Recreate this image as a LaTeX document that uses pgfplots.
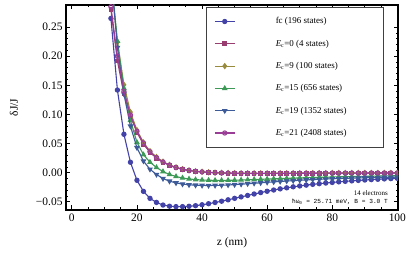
\documentclass[border=0pt]{standalone}
\usepackage{fontspec}
\setmainfont{Liberation Serif}
\newfontfamily\monofont{Liberation Mono}
\usepackage{pgfplots}
\usepackage{pgfplotstable}
\pgfplotsset{compat=1.18}
\definecolor{c1}{rgb}{0.26,0.26,0.66}
\definecolor{c2}{rgb}{0.6,0.24,0.442}
\definecolor{c3}{rgb}{0.6,0.547,0.24}
\definecolor{c4}{rgb}{0.24,0.6,0.337}
\definecolor{c5}{rgb}{0.24,0.353,0.6}
\definecolor{c6}{rgb}{0.6,0.24,0.587}
\pgfplotstableread{
z   fc      e0      e9      e15     e19     e21
12  0.265   0.280   0.330   0.340   0.345   0.285
14  0.142   0.192   0.224   0.226   0.215   0.200
16  0.066   0.135   0.151   0.145   0.135   0.140
18  0.018   0.097   0.104   0.090   0.080   0.099
20  -0.013  0.069   0.073   0.052   0.043   0.071
22  -0.032  0.049   0.052   0.031   0.020   0.051
24  -0.044  0.035   0.037   0.018   0.006   0.036
26  -0.051  0.025   0.027   0.009   -0.003  0.026
28  -0.0555 0.018   0.019   0.002   -0.010  0.0185
30  -0.0575 0.0125  0.0135  -0.003  -0.0145 0.013
32  -0.0582 0.0085  0.0093  -0.0065 -0.0175 0.009
34  -0.0582 0.0056  0.0062  -0.009  -0.0195 0.006
36  -0.0576 0.0036  0.0041  -0.0107 -0.0207 0.0039
38  -0.0566 0.0022  0.0026  -0.0118 -0.0214 0.0024
40  -0.0550 0.0012  0.0016  -0.0125 -0.0218 0.0014
42  -0.0532 0.0005  0.0008  -0.0129 -0.0219 0.0006
44  -0.0511 -0.0001 0.0002  -0.0131 -0.0218 0.0000
46  -0.0489 -0.0005 -0.0002 -0.0131 -0.0215 -0.0004
48  -0.0465 -0.0008 -0.0005 -0.0130 -0.0210 -0.0007
50  -0.0440 -0.0010 -0.0007 -0.0128 -0.0204 -0.0009
52  -0.0415 -0.0011 -0.0009 -0.0125 -0.0197 -0.0011
54  -0.0390 -0.0012 -0.0010 -0.0121 -0.0189 -0.0012
56  -0.0365 -0.0012 -0.0010 -0.0117 -0.0181 -0.0012
58  -0.0341 -0.0012 -0.0010 -0.0113 -0.0173 -0.0012
60  -0.0318 -0.0012 -0.0010 -0.0109 -0.0165 -0.0012
62  -0.0297 -0.0012 -0.0010 -0.0105 -0.0157 -0.0012
64  -0.0277 -0.0011 -0.0009 -0.0101 -0.0150 -0.0011
66  -0.0259 -0.0011 -0.0009 -0.0097 -0.0143 -0.0011
68  -0.0242 -0.0010 -0.0008 -0.0093 -0.0136 -0.0010
70  -0.0227 -0.0010 -0.0008 -0.0089 -0.0130 -0.0010
72  -0.0213 -0.0009 -0.0007 -0.0085 -0.0124 -0.0009
74  -0.0200 -0.0009 -0.0007 -0.0082 -0.0118 -0.0009
76  -0.0188 -0.0008 -0.0006 -0.0079 -0.0113 -0.0008
78  -0.0177 -0.0008 -0.0006 -0.0076 -0.0108 -0.0008
80  -0.0167 -0.0007 -0.0005 -0.0073 -0.0104 -0.0007
82  -0.0157 -0.0007 -0.0005 -0.0070 -0.0100 -0.0007
84  -0.0148 -0.0007 -0.0005 -0.0068 -0.0096 -0.0007
86  -0.0140 -0.0006 -0.0004 -0.0065 -0.0093 -0.0006
88  -0.0132 -0.0006 -0.0004 -0.0063 -0.0090 -0.0006
90  -0.0125 -0.0006 -0.0004 -0.0061 -0.0087 -0.0006
92  -0.0118 -0.0005 -0.0003 -0.0059 -0.0084 -0.0005
94  -0.0112 -0.0005 -0.0003 -0.0057 -0.0082 -0.0005
96  -0.0106 -0.0005 -0.0003 -0.0055 -0.0080 -0.0005
98  -0.0101 -0.0004 -0.0003 -0.0053 -0.0078 -0.0004
100 -0.0096 -0.0004 -0.0002 -0.0051 -0.0076 -0.0004
}\data
\begin{document}
\begin{tikzpicture}
\begin{axis}[
  scale only axis,
  width=332bp, height=205bp,
  xmin=-1.8, xmax=100.2,
  ymin=-0.064, ymax=0.288,
  xtick={0,20,40,60,80,100},
  xticklabels={0,20,40,60,80,100},
  ytick={-0.05,0,0.05,0.1,0.15,0.2,0.25},
  yticklabels={−0.05,0.00,0.05,0.10,0.15,0.20,0.25},
  minor x tick num=3,
  minor y tick num=4,
  tick align=inside,
  major tick length=4.5bp,
  minor tick length=2.5bp,
  every tick/.style={black, line width=0.8bp},
  axis line style={black, line width=1.3bp},
  tick label style={font=\fontsize{11.5}{13}\selectfont},
  xlabel={z (nm)},
  ylabel={δJ/J},
  label style={font=\fontsize{11.5}{13}\selectfont},
  x label style={at={(axis description cs:0.5,-0.161)}, anchor=center},
  y label style={at={(axis description cs:-0.157,0.5)}, anchor=center},
  clip marker paths=true,
  every axis plot/.append style={line width=1.1bp},
  legend cell align=left,
  legend style={at={(0.958,0.99)}, anchor=north east, draw=black!75, line width=0.6bp,
    inner xsep=0pt, inner ysep=3bp, row sep=0pt, cells={anchor=west},
    nodes={inner sep=0pt},
    font=\fontsize{9}{10}\selectfont},
  legend image code/.code={
    \path[draw=none,fill=none] (0bp,-11.15bp) rectangle (69bp,11.15bp);
    \draw[#1,mark repeat=2,mark phase=2] plot coordinates {(8bp,0bp) (18bp,0bp) (28bp,0bp)};
  },
]
\addplot[c1, mark=*, mark size=2.1bp] table[x=z,y=fc] {\data};
\addlegendentry{\makebox[108bp][l]{fc (196 states)}}
\addplot[c2, mark=square*, mark size=1.8bp] table[x=z,y=e0] {\data};
\addlegendentry{\makebox[108bp][l]{\textit{E}\textsubscript{c}=0 (4 states)}}
\addplot[c3, mark=diamond*, mark size=2.4bp] table[x=z,y=e9] {\data};
\addlegendentry{\makebox[108bp][l]{\textit{E}\textsubscript{c}=9 (100 states)}}
\addplot[c4, mark=triangle*, mark size=2.3bp] table[x=z,y=e15] {\data};
\addlegendentry{\makebox[108bp][l]{\textit{E}\textsubscript{c}=15 (656 states)}}
\addplot[c5, mark=triangle*, mark size=2.3bp, mark options={rotate=180}] table[x=z,y=e19] {\data};
\addlegendentry{\makebox[108bp][l]{\textit{E}\textsubscript{c}=19 (1352 states)}}
\addplot[c6, mark=o, mark size=2.1bp, mark options={fill=white}] table[x=z,y=e21] {\data};
\addlegendentry{\makebox[108bp][l]{\textit{E}\textsubscript{c}=21 (2408 states)}}
\node[anchor=east, font=\fontsize{7}{8}\selectfont, inner sep=0pt] at (rel axis cs:0.970,0.084) {14 electrons};
\node[anchor=east, font=\monofont\fontsize{6.2}{7}\selectfont, inner sep=0pt] at (rel axis cs:0.970,0.040) {ħω\textsubscript{0} = 25.71 meV, B = 3.0 T};
\end{axis}
\pgfresetboundingbox
\path[use as bounding box] (-66bp,-49bp) rectangle (341bp,210bp);
\end{tikzpicture}
\end{document}
